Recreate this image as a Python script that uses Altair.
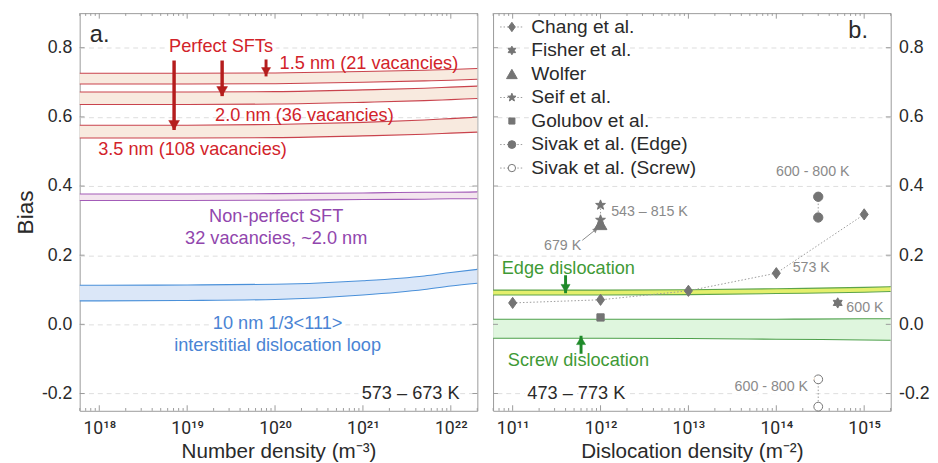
import altair as alt
import pandas as pd
import numpy as np

FONT = "Liberation Sans"

# ---------------- Panel a data ----------------
xa = [6e17, 1e18, 1e19, 1e20, 1e21, 5e21, 1e22, 2e22]
sft15_hi = [0.726, 0.726, 0.726, 0.727, 0.731, 0.735, 0.737, 0.740]
sft15_lo = [0.695, 0.695, 0.695, 0.696, 0.700, 0.704, 0.706, 0.709]
sft20_hi = [0.672, 0.672, 0.672, 0.673, 0.678, 0.683, 0.686, 0.689]
sft20_lo = [0.636, 0.636, 0.636, 0.637, 0.642, 0.647, 0.650, 0.653]
sft35_hi = [0.576, 0.576, 0.576, 0.578, 0.584, 0.591, 0.595, 0.599]
sft35_lo = [0.539, 0.539, 0.539, 0.540, 0.545, 0.550, 0.553, 0.556]
npsft_hi = [0.377, 0.377, 0.377, 0.378, 0.380, 0.382, 0.382, 0.383]
npsft_lo = [0.358, 0.358, 0.358, 0.359, 0.361, 0.362, 0.363, 0.363]
loop_hi = [0.113, 0.113, 0.114, 0.116, 0.126, 0.140, 0.150, 0.159]
loop_lo = [0.068, 0.068, 0.069, 0.072, 0.085, 0.101, 0.111, 0.119]

# ---------------- Panel b data ----------------
xb = [6e10, 1e12, 1e13, 1e14, 1e15, 2e15]
edge_hi = [0.099, 0.099, 0.100, 0.103, 0.107, 0.109]
edge_lo = [0.085, 0.085, 0.086, 0.089, 0.093, 0.095]
screw_hi = [0.015, 0.015, 0.015, 0.015, 0.016, 0.016]
screw_lo = [-0.040, -0.040, -0.041, -0.043, -0.045, -0.046]

chang_x = [1e11, 1e12, 1e13, 1e14, 1e15]
chang_y = [0.062, 0.071, 0.097, 0.148, 0.318]
fisher_x = [5e14]
fisher_y = [0.062]
wolfer_x = [1e12]
wolfer_y = [0.290]
seif_x = [1e12, 1e12]
seif_y = [0.345, 0.302]
golubov_x = [1e12]
golubov_y = [0.020]
sivak_edge_x = [3e14, 3e14]
sivak_edge_y = [0.369, 0.309]
sivak_screw_x = [3e14, 3e14]
sivak_screw_y = [-0.159, -0.238]

series_names = ["Chang et al.", "Fisher et al.", "Wolfer", "Seif et al.",
                "Golubov et al.", "Sivak et al. (Edge)", "Sivak et al. (Screw)"]

# ---------------- shapes ----------------
def star_path(n, r_in):
    pts = []
    for i in range(2 * n):
        r = 1.0 if i % 2 == 0 else r_in
        a = np.pi * i / n
        pts.append((r * np.sin(a), -r * np.cos(a)))
    return "M" + "L".join(f"{x:.3f},{y:.3f}" for x, y in pts) + "Z"

STAR5 = star_path(5, 0.42)
STAR6 = star_path(6, 0.58)
DIAMOND = "M0,-1L0.72,0L0,1L-0.72,0Z"

GRAY = "#747474"
series_style = {
    "Chang et al.": dict(shape=DIAMOND, size=130, fill=GRAY, line=True),
    "Fisher et al.": dict(shape=STAR6, size=110, fill=GRAY, line=False),
    "Wolfer": dict(shape="triangle-up", size=170, fill=GRAY, line=False),
    "Seif et al.": dict(shape=STAR5, size=110, fill=GRAY, line=True),
    "Golubov et al.": dict(shape="square", size=55, fill=GRAY, line=False),
    "Sivak et al. (Edge)": dict(shape="circle", size=90, fill=GRAY, line=True),
    "Sivak et al. (Screw)": dict(shape="circle", size=80, fill="white", line=True),
}
series_data = {
    "Chang et al.": (chang_x, chang_y),
    "Fisher et al.": (fisher_x, fisher_y),
    "Wolfer": (wolfer_x, wolfer_y),
    "Seif et al.": (seif_x, seif_y),
    "Golubov et al.": (golubov_x, golubov_y),
    "Sivak et al. (Edge)": (sivak_edge_x, sivak_edge_y),
    "Sivak et al. (Screw)": (sivak_screw_x, sivak_screw_y),
}

# ---------------- scales / axes ----------------
YDOM = [-0.25, 0.9]
XDOM = {"a": [10 ** 17.777, 10 ** 22.302], "b": [10 ** 10.777, 10 ** 15.302]}
yvals = [-0.2, 0.0, 0.2, 0.4, 0.6, 0.8]
ylab = "replace(format(datum.value, '.1f'), '\u2212', '-')"
SUP = {"0": "\u2070", "1": "\u00b9", "2": "\u00b2", "3": "\u00b3", "4": "\u2074",
       "5": "\u2075", "6": "\u2076", "7": "\u2077", "8": "\u2078", "9": "\u2079"}

def pow_expr(exps):
    expr = "''"
    for e in reversed(exps):
        s = "10" + "".join(SUP[c] for c in str(e))
        expr = f"datum.value < {3 * 10 ** e:.0e} ? '{s}' : ({expr})"
    return expr

xa_ticks = [18, 19, 20, 21, 22]
xb_ticks = [11, 12, 13, 14, 15]

def X(panel):
    if panel == "a":
        return alt.X("x:Q", scale=alt.Scale(type="log", domain=XDOM["a"], nice=False),
                     axis=alt.Axis(values=[10.0 ** e for e in xa_ticks], labelExpr=pow_expr(xa_ticks),
                                   title="Number density (m\u207b\u00b3)", grid=False))
    return alt.X("x:Q", scale=alt.Scale(type="log", domain=XDOM["b"], nice=False),
                 axis=alt.Axis(values=[10.0 ** e for e in xb_ticks], labelExpr=pow_expr(xb_ticks),
                               title="Dislocation density (m\u207b\u00b2)", grid=False))

def Y(panel):
    if panel == "a":
        ax = alt.Axis(values=yvals, labelExpr=ylab, title="Bias", orient="left")
    else:
        ax = alt.Axis(values=yvals, labelExpr=ylab, title=None, orient="right")
    return alt.Y("y:Q", scale=alt.Scale(domain=YDOM, nice=False, zero=False), axis=ax)

def Y2():
    return alt.Y2("y2:Q")

# ---------------- helpers ----------------
def band(panel, xs, hi, lo, fill, line):
    d = pd.DataFrame({"x": xs, "y": hi, "y2": lo})
    area = alt.Chart(d).mark_area(color=fill, opacity=1, interpolate="monotone").encode(
        x=X(panel), y=Y(panel), y2=Y2())
    dl = pd.concat([pd.DataFrame({"x": xs, "y": hi, "k": "hi"}),
                    pd.DataFrame({"x": xs, "y": lo, "k": "lo"})])
    lines = alt.Chart(dl).mark_line(color=line, strokeWidth=1.1, interpolate="monotone").encode(
        x=X(panel), y=Y(panel), detail="k:N")
    return [area, lines]

def texts(panel, rows, halo=False):
    out = []
    for (t, x, y, color, size, align) in rows:
        d = pd.DataFrame({"x": [x], "y": [y], "label": [t]})
        if halo:
            out.append(alt.Chart(d).mark_text(font=FONT, fontSize=size, align=align,
                                              baseline="middle", color="white", stroke="white",
                                              strokeWidth=7).encode(
                x=X(panel), y=Y(panel), text=alt.Text("label:N")))
        out.append(alt.Chart(d).mark_text(font=FONT, fontSize=size, align=align,
                                          baseline="middle", color=color).encode(
            x=X(panel), y=Y(panel), text=alt.Text("label:N")))
    return out

def arrow(panel, x, y0, y1, color, width, head, down=True):
    d = pd.DataFrame({"x": [x], "y": [y0], "y2": [y1]})
    shaft = alt.Chart(d).mark_rule(color=color, strokeWidth=width).encode(
        x=X(panel), y=Y(panel), y2=Y2())
    dh = pd.DataFrame({"x": [x], "y": [y1]})
    tip = alt.Chart(dh).mark_point(shape="triangle-down" if down else "triangle-up", filled=True,
                                   fill=color, stroke=color, strokeWidth=0.5, opacity=1, size=head,
                                   yOffset=-5 if down else 5).encode(x=X(panel), y=Y(panel))
    return [shaft, tip]

def frame_ticks(panel, decades):
    """Small inward ticks on all four sides of a panel frame."""
    lo, hi = XDOM[panel]
    rows = []
    for e in decades:
        for k in range(1, 10):
            v = k * 10.0 ** e
            if lo < v < hi:
                ln = 0.016 if k == 1 else 0.008
                rows.append({"x": v, "y": YDOM[0], "y2": YDOM[0] + ln})
                rows.append({"x": v, "y": YDOM[1], "y2": YDOM[1] - ln})
    xt = alt.Chart(pd.DataFrame(rows)).mark_rule(color="#9a9a9a", strokeWidth=1).encode(
        x=X(panel), y=Y(panel), y2=Y2())
    yrows = []
    f = 10 ** (5 / 89.5)
    for v in yvals:
        yrows.append({"x": lo, "x2": lo * f, "y": v})
        yrows.append({"x": hi / f, "x2": hi, "y": v})
    yt = alt.Chart(pd.DataFrame(yrows)).mark_rule(color="#9a9a9a", strokeWidth=1).encode(
        x=X(panel), x2="x2:Q", y=Y(panel))
    return [xt, yt]

RED_T = "#d2232a"
RED_L = "#c9434d"
PEACH = "#f8eadf"
PURP_T = "#9146ad"
PURP_L = "#a35cb8"
PINK = "#f3e5ee"
BLUE_T = "#4a84d4"
BLUE_L = "#4a90d9"
BLUE_F = "#dbe7f8"
GREEN_T = "#3f9a36"
GREEN_A = "#1f8a2a"
EDGE_F = "#e4ef6c"
EDGE_L = "#5da44a"
SCREW_F = "#dff6de"
SCREW_L = "#4ea04b"
BLACK = "#2a2a2a"
LGRAY = "#8a8a8a"
TS = 18.5

# ---------------- Panel a ----------------
la = []
la += band("a", xa, sft15_hi, sft15_lo, PEACH, RED_L)
la += band("a", xa, sft20_hi, sft20_lo, PEACH, RED_L)
la += band("a", xa, sft35_hi, sft35_lo, PEACH, RED_L)
la += band("a", xa, npsft_hi, npsft_lo, PINK, PURP_L)
la += band("a", xa, loop_hi, loop_lo, BLUE_F, BLUE_L)
la += frame_ticks("a", range(17, 23))
la += arrow("a", 7.1e18, 0.763, 0.562, "#b51d1d", 3.5, 120)
la += arrow("a", 2.5e19, 0.763, 0.660, "#b51d1d", 3.5, 120)
la += arrow("a", 7.9e19, 0.766, 0.717, "#b51d1d", 3.0, 85)
la += texts("a", [("Perfect SFTs", 2.43e19, 0.806, RED_T, TS, "center"),
                  ("10 nm 1/3<111>", 1.07e20, 0.003, BLUE_T, TS, "center"),
                  ("573 \u2013 673 K", 10 ** 22.1, -0.2, BLACK, TS, "right")], halo=True)
la += texts("a", [("a.", 7.8e17, 0.837, BLACK, 24, "left"),
                  ("1.5 nm (21 vacancies)", 1.17e21, 0.755, RED_T, TS, "center"),
                  ("2.0 nm (36 vacancies)", 2.16e20, 0.604, RED_T, TS, "center"),
                  ("3.5 nm (108 vacancies)", 1.15e19, 0.508, RED_T, TS, "center"),
                  ("Non-perfect SFT", 1.03e20, 0.312, PURP_T, TS, "center"),
                  ("32 vacancies, ~2.0 nm", 1.03e20, 0.250, PURP_T, TS, "center"),
                  ("interstitial dislocation loop", 1.07e20, -0.060, BLUE_T, TS, "center")])
left = alt.layer(*la).properties(width=405, height=405)

# ---------------- Panel b ----------------
lb = []
lb += band("b", xb, edge_hi, edge_lo, EDGE_F, EDGE_L)
lb += band("b", xb, screw_hi, screw_lo, SCREW_F, SCREW_L)
lb += frame_ticks("b", range(10, 16))
for name in series_names:
    st = series_style[name]
    xs, ys = series_data[name]
    if st["line"] and len(xs) > 1:
        d = pd.DataFrame({"x": xs, "y": ys})
        lb.append(alt.Chart(d).mark_line(color="#9a9a9a", strokeWidth=1, strokeDash=[1.5, 2]).encode(
            x=X("b"), y=Y("b")))
lb.append(alt.Chart(pd.DataFrame({"x": [6.2e11], "y": [0.243], "x2": [8.8e11], "y2": [0.274]}))
          .mark_rule(color="#8a8a8a", strokeWidth=1).encode(x=X("b"), y=Y("b"), x2="x2:Q", y2=Y2()))
lb.append(alt.Chart(pd.DataFrame({"x": [8.8e11], "y": [0.274]}))
          .mark_point(shape="triangle-up", angle=51, filled=True, fill="#8a8a8a", opacity=1, size=30)
          .encode(x=X("b"), y=Y("b")))
for name in series_names:
    st = series_style[name]
    xs, ys = series_data[name]
    d = pd.DataFrame({"x": xs, "y": ys})
    lb.append(alt.Chart(d).mark_point(shape=st["shape"], size=st["size"], filled=True, fill=st["fill"],
                                      stroke=GRAY, strokeWidth=1, opacity=1).encode(x=X("b"), y=Y("b")))
lb += arrow("b", 4.0e11, 0.142, 0.090, GREEN_A, 3.0, 85)
lb += arrow("b", 6.0e11, -0.085, -0.033, GREEN_A, 3.0, 85, down=False)
lb += texts("b", [("473 \u2013 773 K", 5.3e11, -0.2, BLACK, TS, "center"),
                  ("600 - 800 K", 2.3e14, -0.182, LGRAY, 14.5, "right")], halo=True)
lb += texts("b", [("b.", 6.6e14, 0.848, BLACK, 24, "left"),
                  ("Edge dislocation", 4.3e11, 0.162, GREEN_T, TS, "center"),
                  ("Screw dislocation", 5.6e11, -0.102, GREEN_T, TS, "center"),
                  ("543 \u2013 815 K", 1.32e12, 0.326, LGRAY, 14.5, "left"),
                  ("679 K", 3.7e11, 0.227, LGRAY, 14.5, "center"),
                  ("573 K", 2.5e14, 0.162, LGRAY, 14.5, "center"),
                  ("600 K", 1.02e15, 0.048, LGRAY, 14.5, "center"),
                  ("600 - 800 K", 2.6e14, 0.440, LGRAY, 14.5, "center")])

leg_y = [0.860, 0.792, 0.724, 0.656, 0.588, 0.520, 0.452]
leg_sym_x = 9.8e10
leg_txt_x = 1.63e11
for name, yy in zip(series_names, leg_y):
    st = series_style[name]
    if st["line"]:
        lb.append(alt.Chart(pd.DataFrame({"x": [7.2e10], "x2": [1.32e11], "y": [yy]}))
                  .mark_rule(color="#9a9a9a", strokeWidth=1, strokeDash=[1.5, 2])
                  .encode(x=X("b"), x2="x2:Q", y=Y("b")))
    lb.append(alt.Chart(pd.DataFrame({"x": [leg_sym_x], "y": [yy]}))
              .mark_point(shape=st["shape"], size=st["size"] * 0.7, filled=True, fill=st["fill"],
                          stroke=GRAY, strokeWidth=1, opacity=1).encode(x=X("b"), y=Y("b")))
lb += texts("b", [(n, leg_txt_x, yy, BLACK, 19.5, "left") for n, yy in zip(series_names, leg_y)], halo=True)

right = alt.layer(*lb).properties(width=405, height=405)

chart = alt.hconcat(left, right, spacing=10).properties(
    padding={"left": 6, "top": 0, "right": 0, "bottom": 0}
).configure_view(stroke="#9a9a9a", strokeWidth=1).configure_axis(
    labelFont=FONT, titleFont=FONT, labelFontWeight="normal", titleFontWeight="normal",
    labelFontSize=18, titleFontSize=21, labelColor=BLACK, titleColor=BLACK,
    ticks=False, domain=False, labelPadding=8, gridColor="#dddddd", gridDash=[5, 4], gridWidth=1
).configure_axisY(titleFontSize=23, titlePadding=4).configure_axisX(
    titlePadding=4, labelPadding=9, labelFont="Roboto")

chart.save("out.html", embed_options={"renderer": "svg", "actions": False})
